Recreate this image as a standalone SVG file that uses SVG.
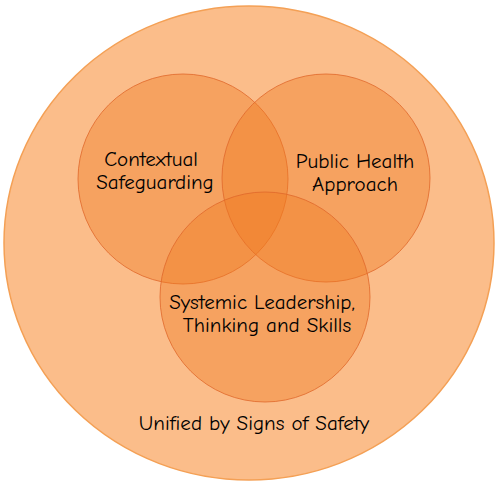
<svg xmlns="http://www.w3.org/2000/svg" width="500" height="482" viewBox="0 0 500 482">
<style>
.inner{fill:#f07a20;fill-opacity:0.4;stroke:#e0682a;stroke-width:1;stroke-opacity:0.8}
.lbl{font-family:"Comic Neue","Liberation Sans",sans-serif;font-size:21px;fill:#000000;text-anchor:middle}
</style>
<rect width="500" height="482" fill="#ffffff"/>
<g id="outer">
<ellipse cx="249" cy="243" rx="245" ry="237" fill="#fbbd8a" stroke="#f4a055" stroke-width="1.5"/>
<text class="lbl" x="254" y="430">Unified by Signs of Safety</text>
</g>
<g id="contextual">
<circle class="inner" cx="183" cy="179" r="105"/>
<text class="lbl" x="151" y="166">Contextual</text>
<text class="lbl" x="155" y="189">Safeguarding</text>
</g>
<g id="public-health">
<circle class="inner" cx="326" cy="178" r="104"/>
<text class="lbl" x="355" y="168">Public Health</text>
<text class="lbl" x="355" y="191">Approach</text>
</g>
<g id="systemic">
<circle class="inner" cx="265" cy="297" r="105"/>
<text class="lbl" x="262" y="309">Systemic Leadership,</text>
<text class="lbl" x="267" y="332">Thinking and Skills</text>
</g>
<g id="connectors"/>
</svg>
